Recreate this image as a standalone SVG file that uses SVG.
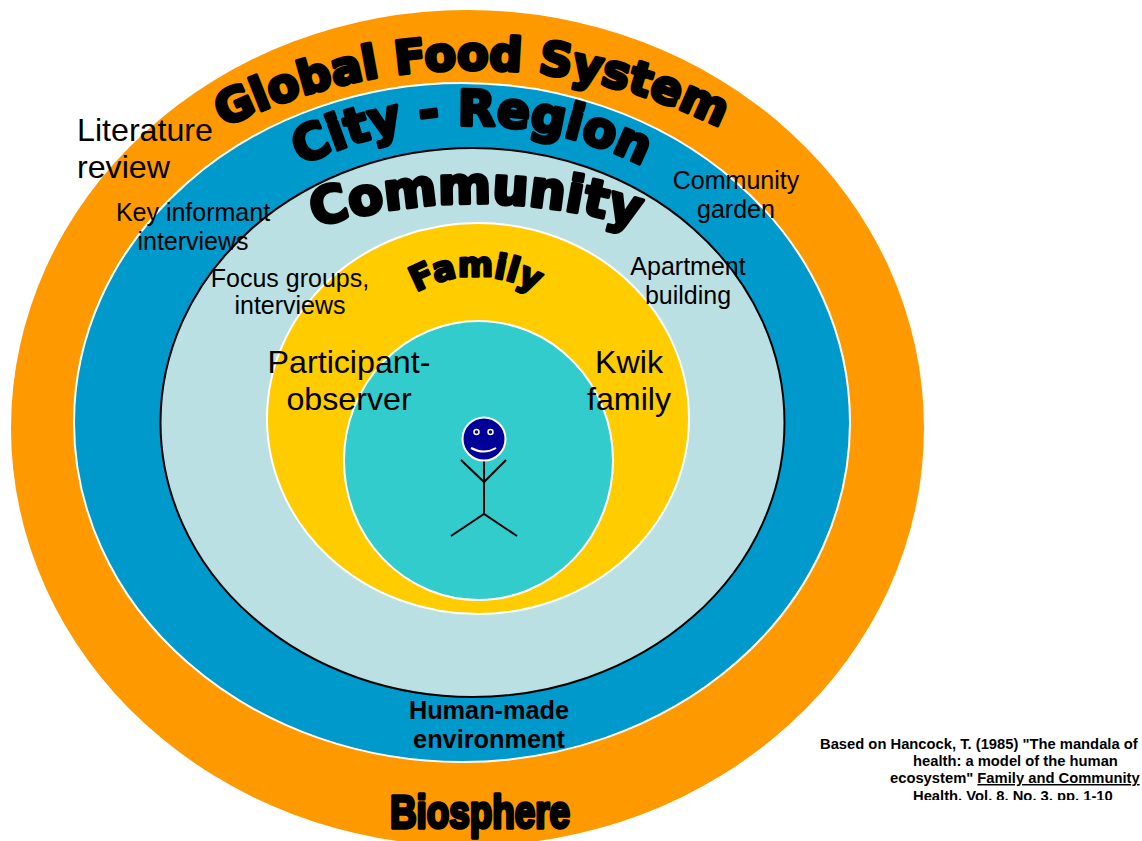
<svg xmlns="http://www.w3.org/2000/svg" width="1142" height="841" viewBox="0 0 1142 841">
<style>
text{font-family:"Liberation Sans",Arial,sans-serif;fill:#000}
.c{text-anchor:middle}
.t25{font-size:25px}
.t32{font-size:32.200px}
.hb{font-weight:bold;font-size:25.300px}
.wa{font-family:"DejaVu Sans",sans-serif;font-weight:bold;stroke:#000;stroke-linejoin:round;text-anchor:middle}
.bio{font-family:"Liberation Sans",sans-serif;font-weight:bold;stroke:#000;stroke-linejoin:round;text-anchor:middle}
.note{font-weight:bold;font-size:14.750px}
.ring{stroke:#fff;stroke-width:2}
.fig{fill:none;stroke:#000;stroke-width:2}
</style>
<defs>
<path id="pGlobal" d="M167 160A559 559 0 0 1 777 160"/>
<path id="pCity" d="M272 182A382 382 0 0 1 672 182"/>
<path id="pComm" d="M276 241A550 550 0 0 1 676 241"/>
<path id="pFam" d="M376 330A120 120 0 0 1 576 330"/>
<clipPath id="noteClip"><rect x="800" y="730" width="342" height="70"/></clipPath>
</defs>
<g id="biosphere"><ellipse cx="467.500" cy="428" rx="456.500" ry="418" fill="#FF9900"/></g>
<g id="city"><ellipse cx="462" cy="422.500" rx="388" ry="339.500" fill="#0099CC" class="ring"/></g>
<g id="community"><ellipse cx="472.500" cy="422.500" rx="312" ry="274.500" fill="#BBE0E3" stroke="#000" stroke-width="2"/></g>
<g id="family"><ellipse cx="478" cy="418.500" rx="211" ry="195.500" fill="#FFCC00" class="ring"/></g>
<g id="self"><ellipse cx="478.500" cy="460.500" rx="134.500" ry="139.500" fill="#33CCCC" class="ring"/></g>
<g id="person">
<path class="fig" d="M484 460V514M461 460L484 482L506 460M451 536L484 514L517 536"/>
<circle cx="484" cy="439" r="21.500" fill="#000099" stroke="#fff" stroke-width="2"/>
<circle cx="476.500" cy="432" r="2.500" fill="#000099" stroke="#fff" stroke-width="1.500"/>
<circle cx="490.500" cy="432" r="2.500" fill="#000099" stroke="#fff" stroke-width="1.500"/>
<path d="M471 448Q484 455 496 448" fill="none" stroke="#fff" stroke-width="2"/>
</g>
<g id="titles">
<text class="wa" font-size="46" stroke-width="3.500"><textPath href="#pGlobal" startOffset="50%">Global Food System</textPath></text>
<text class="wa" font-size="49" stroke-width="3.500"><textPath href="#pCity" startOffset="50%">City - Region</textPath></text>
<text class="wa" font-size="51" stroke-width="3.500"><textPath href="#pComm" startOffset="50%">Community</textPath></text>
<text class="wa" font-size="34" stroke-width="2.500"><textPath href="#pFam" startOffset="50%">Family</textPath></text>
<text class="bio" font-size="46" stroke-width="3.500" x="480" y="828" textLength="180" lengthAdjust="spacingAndGlyphs">Biosphere</text>
</g>
<g id="labels">
<text class="t32" x="77" y="141">Literature</text>
<text class="t32" x="77" y="178">review</text>
<text class="t25 c" x="193" y="221">Key informant</text>
<text class="t25 c" x="193" y="250">interviews</text>
<text class="t25 c" x="290" y="287">Focus groups,</text>
<text class="t25 c" x="290" y="314">interviews</text>
<text class="t25 c" x="736" y="189">Community</text>
<text class="t25 c" x="736" y="218">garden</text>
<text class="t25 c" x="688" y="275">Apartment</text>
<text class="t25 c" x="688" y="304">building</text>
<text class="t32 c" x="349" y="373">Participant-</text>
<text class="t32 c" x="349" y="410">observer</text>
<text class="t32 c" x="629" y="373">Kwik</text>
<text class="t32 c" x="629" y="410">family</text>
<text class="hb c" x="489" y="719">Human-made</text>
<text class="hb c" x="489" y="748">environment</text>
</g>
<g id="citation" clip-path="url(#noteClip)">
<text class="note" x="820" y="749">Based on Hancock, T. (1985) "The mandala of</text>
<text class="note" x="913" y="766">health: a model of the human</text>
<text class="note" x="890" y="783">ecosystem" <tspan text-decoration="underline">Family and Community</tspan></text>
<text class="note" x="913" y="801">Health, Vol. 8, No. 3, pp. 1-10</text>
</g>
</svg>
